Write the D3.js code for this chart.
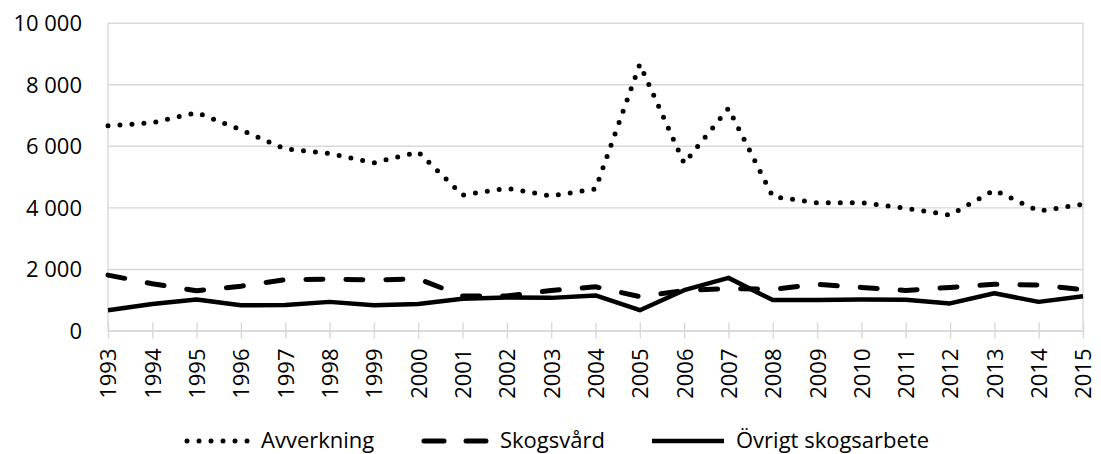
<!DOCTYPE html>
<html>
<head>
<meta charset="utf-8">
<script src="https://cdnjs.cloudflare.com/ajax/libs/d3/7.8.5/d3.min.js"></script>
<style>
  body { margin: 0; background: #fff; }
  text { font-family: "Open Sans", sans-serif; fill: #000; }
</style>
</head>
<body>
<div class="chart"></div>
<script>
// data
const years = [1993, 1994, 1995, 1996, 1997, 1998, 1999, 2000, 2001, 2002, 2003, 2004,
               2005, 2006, 2007, 2008, 2009, 2010, 2011, 2012, 2013, 2014, 2015];
const avverkning = [6650, 6750, 7080, 6520, 5900, 5750, 5450, 5800, 4400, 4620, 4370, 4600,
                    8650, 5430, 7220, 4350, 4150, 4150, 3970, 3750, 4560, 3880, 4100];
const skogsvard = [1800, 1520, 1290, 1440, 1650, 1670, 1640, 1680, 1120, 1120, 1300, 1420,
                   1100, 1300, 1360, 1340, 1500, 1400, 1300, 1400, 1500, 1480, 1330];
const ovrigt = [660, 860, 1010, 820, 830, 930, 820, 860, 1030, 1070, 1060, 1140,
                660, 1310, 1710, 990, 990, 1010, 1000, 880, 1210, 930, 1110];
const yTicks = [0, 2000, 4000, 6000, 8000, 10000];
const seriesNames = ["Avverkning", "Skogsvård", "Övrigt skogsarbete"];

const width = 1101;
const height = 454;
const plotL = 108, plotR = 1083, plotT = 22.7, plotB = 330.5;

const svg = d3.select(".chart")
              .append("svg")
              .attr("width", width)
              .attr("height", height);

const x = d3.scalePoint().domain(years).range([plotL, plotR]);
const y = d3.scaleLinear().domain([0, 10000]).range([plotB, plotT]);

const fmt = v => d3.format(",")(v).replace(/,/g, " ");

// gridlines
const yAxis = svg.append("g")
  .attr("transform", "translate(" + plotL + ",0)")
  .call(d3.axisLeft(y).tickValues(yTicks).tickSize(-(plotR - plotL)).tickPadding(26).tickFormat(fmt));
yAxis.select(".domain").remove();
yAxis.selectAll("line").attr("stroke", "#d9d9d9").attr("stroke-width", 1.4);
yAxis.selectAll("text").style("font-size", "22px").attr("dy", "0.36em");

// side borders of the plot area
svg.append("line").attr("x1", plotL).attr("x2", plotL).attr("y1", plotT).attr("y2", plotB)
  .attr("stroke", "#d9d9d9").attr("stroke-width", 1.4);
svg.append("line").attr("x1", plotR).attr("x2", plotR).attr("y1", plotT).attr("y2", plotB)
  .attr("stroke", "#d9d9d9").attr("stroke-width", 1.4);

// x axis with crossing ticks
const xAxis = svg.append("g")
  .attr("transform", "translate(0," + plotB + ")")
  .call(d3.axisBottom(x).tickSize(8).tickSizeOuter(0));
xAxis.select(".domain").attr("stroke", "#d9d9d9").attr("stroke-width", 1.4);
xAxis.selectAll(".tick line").attr("y1", -8).attr("stroke", "#d9d9d9").attr("stroke-width", 1.4);
xAxis.selectAll("text")
  .style("font-size", "22px")
  .attr("text-anchor", "end")
  .attr("transform", "translate(0,18) rotate(-90)")
  .attr("x", 0).attr("y", 0).attr("dy", "0.36em");

// series styles
const styles = [
  { data: avverkning, width: 5, dash: "0,12", cap: "round" },
  { data: skogsvard, width: 5, dash: "17,23", cap: "round" },
  { data: ovrigt, width: 4.5, dash: null, cap: "butt" }
];

const line = d3.line().x((d, i) => x(years[i])).y(d => y(d));

styles.forEach(function(s) {
  svg.append("path")
    .datum(s.data)
    .attr("d", line)
    .attr("fill", "none")
    .attr("stroke", "#000")
    .attr("stroke-width", s.width)
    .attr("stroke-linejoin", "round")
    .attr("stroke-linecap", s.cap)
    .attr("stroke-dasharray", s.dash);
});

// legend (reference clips it at the bottom edge; kept just inside here)
const legendX = [185, 422, 652];
const legendLen = [64, 66, 72];
const legendY = 441;
const legend = svg.append("g");
styles.forEach(function(s, i) {
  legend.append("line")
    .attr("x1", legendX[i] + (s.cap === "round" ? 2 : 0))
    .attr("x2", legendX[i] + legendLen[i])
    .attr("y1", legendY).attr("y2", legendY)
    .attr("stroke", "#000")
    .attr("stroke-width", s.width)
    .attr("stroke-linecap", s.cap)
    .attr("stroke-dasharray", i === 1 ? "20,22" : s.dash);
  legend.append("text")
    .attr("x", legendX[i] + legendLen[i] + 12)
    .attr("y", legendY + 7)
    .style("font-size", "22px")
    .text(seriesNames[i]);
});
</script>
</body>
</html>
